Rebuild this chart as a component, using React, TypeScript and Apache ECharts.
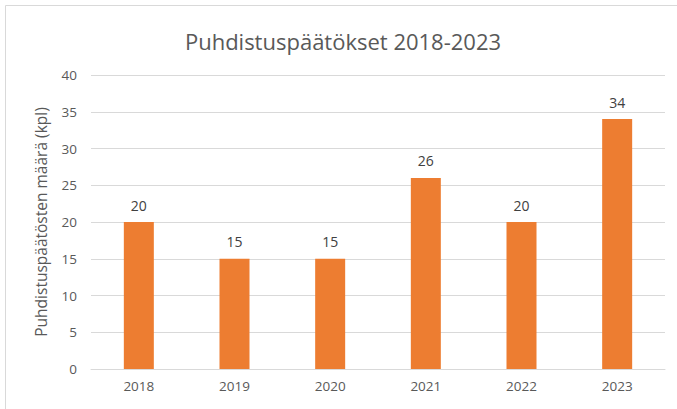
import React, { useEffect, useRef } from "react";
import * as echarts from "echarts";

const years = ["2018", "2019", "2020", "2021", "2022", "2023"];
const decisions = [20, 15, 15, 26, 20, 34];
const titleText = "Puhdistuspäätökset 2018-2023";
const yAxisName = "Puhdistuspäätösten määrä (kpl)";

export default function App() {
  const ref = useRef<HTMLDivElement>(null);
  useEffect(() => {
    if (!ref.current) return;
    const chart = echarts.init(ref.current, null, { renderer: "svg" });
    const font = "Open Sans, Noto Sans, sans-serif";
    chart.setOption({
      animation: false,
      backgroundColor: "#ffffff",
      title: {
        text: titleText,
        left: 338,
        top: 25,
        textAlign: "center",
        textStyle: { fontFamily: font, fontSize: 22, fontWeight: "normal", color: "#595959" },
      },
      graphic: [
        {
          type: "rect",
          shape: { x: 5.5, y: 5.5, width: 700, height: 500 },
          style: { fill: "none", stroke: "#d9d9d9", lineWidth: 1 },
          silent: true,
        },
      ],
      grid: { left: 91, right: 12, top: 75, bottom: 40, containLabel: false },
      xAxis: {
        type: "category",
        data: years,
        axisLine: { lineStyle: { color: "#d9d9d9" } },
        axisTick: { show: false },
        axisLabel: { fontFamily: font, fontSize: 13.5, color: "#595959", margin: 10 },
      },
      yAxis: {
        type: "value",
        min: 0,
        max: 40,
        interval: 5,
        name: yAxisName,
        nameLocation: "middle",
        nameGap: 42,
        nameTextStyle: { fontFamily: font, fontSize: 15.5, color: "#595959" },
        axisLine: { show: false },
        axisTick: { show: false },
        axisLabel: { fontFamily: font, fontSize: 13.5, color: "#595959", margin: 14 },
        splitLine: { lineStyle: { color: "#d9d9d9" } },
      },
      series: [
        {
          type: "bar",
          data: decisions,
          barWidth: 30,
          itemStyle: { color: "#ED7D31" },
          label: {
            show: true,
            position: "top",
            distance: 10,
            fontFamily: font,
            fontSize: 14,
            color: "#404040",
          },
        },
      ],
    });
    return () => chart.dispose();
  }, []);
  return <div ref={ref} style={{ width: 677, height: 409, position: "absolute", left: 0, top: 0 }} />;
}
